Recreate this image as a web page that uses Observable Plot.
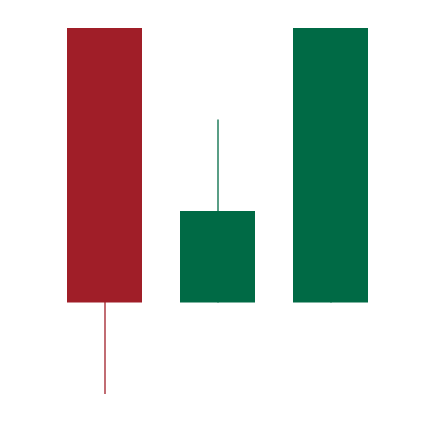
<!DOCTYPE html>
<html>
<head>
<meta charset="utf-8">
<script src="https://cdn.jsdelivr.net/npm/d3@7"></script>
<script src="https://cdn.jsdelivr.net/npm/@observablehq/plot@0.6"></script>
<style>
  html, body { margin: 0; padding: 0; background: #fff; }
</style>
</head>
<body>
<div id="chart"></div>
<script>
const periods = ["1", "2", "3"];
const opens = [4, 1, 1];
const closes = [1, 2, 4];
const highs = [4, 3, 4];
const lows = [0, 1, 1];

const upColor = "#006a45";
const downColor = "#a01e28";

const data = periods.map((p, i) => ({
  period: p, open: opens[i], close: closes[i], high: highs[i], low: lows[i],
  dir: closes[i] >= opens[i] ? "up" : "down"
}));

const chart = Plot.plot({
  width: 434,
  height: 422,
  marginTop: 28,
  marginBottom: 28,
  marginLeft: 29,
  marginRight: 28,
  x: { domain: periods, padding: 0.336, axis: null },
  y: { domain: [0, 4], axis: null },
  color: { domain: ["up", "down"], range: [upColor, downColor] },
  marks: [
    Plot.ruleX(data, { x: "period", y1: "low", y2: "high", stroke: "dir", strokeWidth: 1.3 }),
    Plot.barY(data, { x: "period", y1: "open", y2: "close", fill: "dir" })
  ]
});
document.getElementById("chart").append(chart);
</script>
</body>
</html>
